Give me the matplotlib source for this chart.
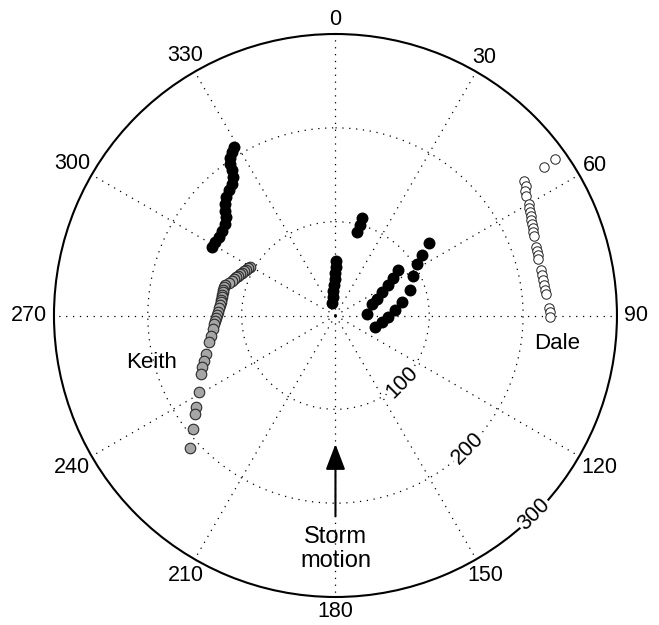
import numpy as np
import matplotlib
matplotlib.use("Agg")
import matplotlib.pyplot as plt

plt.rcParams['font.family'] = ['Liberation Sans', 'DejaVu Sans']

# Azimuth (deg, clockwise from north) and range of each tracked cell
black_az = [328.9, 327.6, 326.1, 325.1, 324.5, 323.5, 321.8, 319.7, 317.3,
            315.3, 313.4, 312.0, 309.7, 306.7, 304.0, 301.5, 299.1,
            1.0, 1.2, 0.0, 0.0, 358.2, 355.4, 354.0, 347.0,
            15.4, 14.8, 14.7,
            88.2, 73.4, 69.1, 63.9, 59.7, 56.8, 53.9,
            106.7, 97.3, 91.1, 84.3, 78.2,
            70.9, 63.4, 58.1, 55.0, 51.9]
black_rng = [209.3, 205.9, 201.7, 196.5, 190.0, 183.4, 178.1, 175.2, 171.8,
             167.2, 162.0, 156.9, 152.8, 150.7, 149.7, 150.4, 150.4,
             58.3, 52.0, 45.6, 39.2, 32.9, 26.6, 20.3, 14.1,
             108.3, 100.3, 92.5,
             34.1, 41.1, 47.9, 55.8, 65.4, 73.9, 83.1,
             44.5, 50.5, 56.5, 64.3, 72.9,
             84.6, 92.9, 102.9, 113.2, 126.0]

keith_az = [299.7, 298.4, 297.1, 295.8, 294.6, 293.4, 292.2, 291.0, 289.9,
            288.5, 287.1, 285.6, 284.2, 283.0, 281.7, 280.4, 279.1, 277.9,
            276.6, 275.4, 273.6, 271.9, 270.4, 269.0, 267.4, 265.8, 263.5,
            260.5, 258.0, 253.3, 250.8, 248.8, 246.4, 240.7, 236.7, 234.9,
            231.4, 227.7]
keith_rng = [104.9, 106.0, 107.1, 108.3, 109.6, 110.9, 112.2, 113.6, 115.0,
             116.8, 118.7, 122.2, 122.5, 122.9, 122.9, 122.9, 123.0, 123.1,
             123.3, 123.5, 124.3, 125.2, 126.2, 127.2, 128.4, 129.7, 131.2,
             134.4, 137.6, 143.9, 148.2, 152.4, 156.2, 166.6, 177.6, 182.6,
             193.9, 209.4]

dale_az = [54.6, 54.6, 54.6, 55.8, 56.8, 58.0, 60.1, 61.0, 62.0, 63.1, 64.0,
           65.1, 66.1, 67.1, 68.2, 71.1, 72.2, 73.4, 74.4, 77.5, 78.8, 80.2,
           81.6, 83.0, 84.1, 87.9, 89.2, 90.3]
dale_rng = [287.4, 273.0, 247.1, 244.9, 242.0, 240.0, 238.4, 236.3, 235.2,
            234.2, 232.3, 231.4, 230.7, 229.0, 228.3, 226.3, 226.0, 225.7,
            224.5, 224.8, 224.7, 224.8, 225.0, 225.4, 226.0, 228.1, 229.0,
            229.0]

az_ticks = [0, 30, 60, 90, 120, 150, 180, 210, 240, 270, 300, 330]
rng_ticks = [100, 200, 300]
rmax = 300

fig = plt.figure(figsize=(6.59, 6.25), dpi=100)
ax = fig.add_axes([0.0819, 0.0448, 0.8543, 0.9008], projection='polar')
ax.set_theta_zero_location('N')
ax.set_theta_direction(-1)
ax.set_ylim(0, rmax)

grid_style = dict(color='black', linewidth=0.9, linestyle=(0, (1, 4.5)))
ax.set_thetagrids(az_ticks, labels=[''] * len(az_ticks))
ax.set_rgrids([100, 200], labels=['', ''])
ax.grid(True, **grid_style)
ax.spines['polar'].set_linewidth(1.5)

# angle labels outside the rim; push wider labels out further on the sides
rim_px = 281.5
for a in az_ticks:
    s, c = np.sin(np.deg2rad(a)), np.cos(np.deg2rad(a))
    half_w, half_h = 11.5 * len(str(a)) / 2, 7.5
    r_px = rim_px + 7.5 + np.hypot(s * half_w, c * half_h)
    ax.text(np.deg2rad(a), r_px * rmax / rim_px, str(a), ha='center',
            va='center', fontsize=15.5, clip_on=False)

# range labels along the 135 degree radial
for r in rng_ticks:
    ax.text(np.deg2rad(135), r, str(r), rotation=45, ha='center', va='center',
            fontsize=15.5, zorder=5,
            bbox=dict(facecolor='white', edgecolor='none', pad=1.0))

ax.plot(np.deg2rad(keith_az), keith_rng, 'o', ms=7.6, mfc='#a6a6a6',
        mec='#2a2a2a', mew=0.8, zorder=3)
ax.plot(np.deg2rad(dale_az), dale_rng, 'o', ms=6.8, mfc='white',
        mec='#222222', mew=0.7, zorder=3)
ax.plot(np.deg2rad(black_az), black_rng, 'o', ms=8.6, color='black',
        mew=0, zorder=4)

# storm motion arrow
ax.annotate('', xy=(np.pi, 137), xytext=(np.pi, 214),
            arrowprops=dict(arrowstyle='-|>,head_length=1.05,head_width=0.4',
                            mutation_scale=15, color='black', lw=1.5,
                            shrinkA=0, shrinkB=0))
ax.text(np.pi, 242, 'Storm', ha='center', va='baseline', fontsize=17)
ax.text(np.pi, 268.5, 'motion', ha='center', va='baseline', fontsize=17)

ax.text(np.deg2rad(255.6), 202, 'Keith', ha='center', va='center', fontsize=16)
ax.text(np.deg2rad(97.2), 238, 'Dale', ha='center', va='center', fontsize=16)

fig.savefig('out.png', dpi=100)
